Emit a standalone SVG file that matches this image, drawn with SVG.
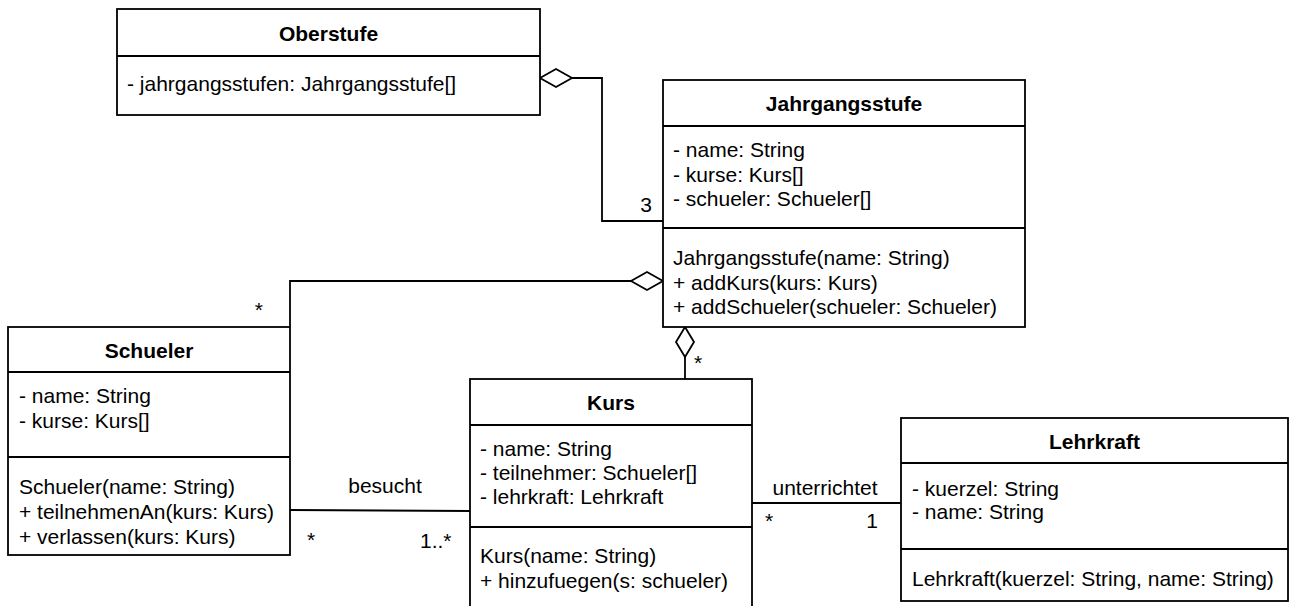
<svg xmlns="http://www.w3.org/2000/svg" width="1292" height="606" viewBox="0 0 1292 606">
  <style>
    .box { fill: #ffffff; stroke: #000000; stroke-width: 1.8; }
    .sep { stroke: #000000; stroke-width: 1.8; }
    .edge { fill: none; stroke: #000000; stroke-width: 1.8; }
    .dia { fill: #ffffff; stroke: #000000; stroke-width: 1.8; stroke-linejoin: miter; }
    text { font-family: "Liberation Sans", Arial, sans-serif; font-size: 21px; fill: #000000; }
    .title { font-weight: bold; text-anchor: middle; }
    .mid { text-anchor: middle; }
    .end { text-anchor: end; }
  </style>
  <rect width="1292" height="606" fill="#ffffff"/>

  <!-- associations and aggregations -->
  <g id="connectors">
    <!-- Oberstufe <>- Jahrgangsstufe -->
    <polyline class="edge" points="572,78 602,78 602,221 663,221"/>
    <polygon class="dia" points="540,78 556,69 572,78 556,87"/>
    <text x="652" y="212" class="end">3</text>

    <!-- Jahrgangsstufe <>- Schueler -->
    <polyline class="edge" points="631,281 290,281 290,327"/>
    <polygon class="dia" points="663,281 647,272 631,281 647,290"/>
    <text x="263" y="317" class="end">*</text>

    <!-- Jahrgangsstufe <>- Kurs -->
    <line class="edge" x1="685" y1="357" x2="685" y2="379"/>
    <polygon class="dia" points="685,327 694,342 685,357 676,342"/>
    <text x="694" y="370">*</text>

    <!-- Schueler besucht Kurs -->
    <line class="edge" x1="290" y1="510" x2="471" y2="511"/>
    <text x="385" y="493" class="mid">besucht</text>
    <text x="307" y="547">*</text>
    <text x="420" y="548">1..*</text>

    <!-- Lehrkraft unterrichtet Kurs -->
    <line class="edge" x1="752" y1="503" x2="901" y2="503"/>
    <text x="825" y="495" class="mid">unterrichtet</text>
    <text x="765" y="528">*</text>
    <text x="878" y="528" class="end">1</text>
  </g>

  <g id="oberstufe">
    <rect class="box" x="117" y="9" width="423" height="106"/>
    <line class="sep" x1="117" y1="56" x2="540" y2="56"/>
    <text x="328.5" y="41" class="title">Oberstufe</text>
    <text x="127" y="91">- jahrgangsstufen: Jahrgangsstufe[]</text>
  </g>

  <g id="jahrgangsstufe">
    <rect class="box" x="663" y="80" width="362" height="247"/>
    <line class="sep" x1="663" y1="126" x2="1025" y2="126"/>
    <line class="sep" x1="663" y1="228" x2="1025" y2="228"/>
    <text x="844" y="111" class="title">Jahrgangsstufe</text>
    <text x="673" y="157">- name: String</text>
    <text x="673" y="182">- kurse: Kurs[]</text>
    <text x="673" y="206">- schueler: Schueler[]</text>
    <text x="673" y="265">Jahrgangsstufe(name: String)</text>
    <text x="673" y="290">+ addKurs(kurs: Kurs)</text>
    <text x="673" y="314">+ addSchueler(schueler: Schueler)</text>
  </g>

  <g id="schueler">
    <rect class="box" x="8" y="327" width="282" height="228"/>
    <line class="sep" x1="8" y1="372" x2="290" y2="372"/>
    <line class="sep" x1="8" y1="457" x2="290" y2="457"/>
    <text x="149" y="358" class="title">Schueler</text>
    <text x="19" y="403">- name: String</text>
    <text x="19" y="428">- kurse: Kurs[]</text>
    <text x="19" y="494">Schueler(name: String)</text>
    <text x="19" y="519">+ teilnehmenAn(kurs: Kurs)</text>
    <text x="19" y="544">+ verlassen(kurs: Kurs)</text>
  </g>

  <g id="kurs">
    <rect class="box" x="470" y="379" width="282" height="240"/>
    <line class="sep" x1="470" y1="425" x2="752" y2="425"/>
    <line class="sep" x1="470" y1="527" x2="752" y2="527"/>
    <text x="611" y="410" class="title">Kurs</text>
    <text x="480" y="456">- name: String</text>
    <text x="480" y="480">- teilnehmer: Schueler[]</text>
    <text x="480" y="504">- lehrkraft: Lehrkraft</text>
    <text x="480" y="563">Kurs(name: String)</text>
    <text x="480" y="588">+ hinzufuegen(s: schueler)</text>
  </g>

  <g id="lehrkraft">
    <rect class="box" x="901" y="418" width="387" height="183"/>
    <line class="sep" x1="901" y1="463" x2="1288" y2="463"/>
    <line class="sep" x1="901" y1="549" x2="1288" y2="549"/>
    <text x="1094.5" y="449" class="title">Lehrkraft</text>
    <text x="912" y="496">- kuerzel: String</text>
    <text x="912" y="519">- name: String</text>
    <text x="912" y="586">Lehrkraft(kuerzel: String, name: String)</text>
  </g>
</svg>
